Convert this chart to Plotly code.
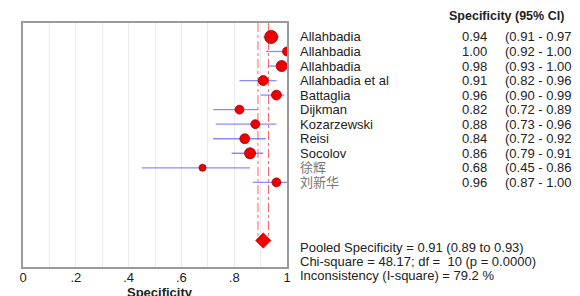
import plotly.graph_objects as go

# ---- data ----
studies = ["Allahbadia", "Allahbadia", "Allahbadia", "Allahbadia et al", "Battaglia",
           "Dijkman", "Kozarzewski", "Reisi", "Socolov", "徐辉", "刘新华"]
spec = [0.94, 1.00, 0.98, 0.91, 0.96, 0.82, 0.88, 0.84, 0.86, 0.68, 0.96]
ci_low = [0.91, 0.92, 0.93, 0.82, 0.90, 0.72, 0.73, 0.72, 0.79, 0.45, 0.87]
ci_high = [0.97, 1.00, 1.00, 0.96, 0.99, 0.89, 0.96, 0.92, 0.91, 0.86, 1.00]
weights = [14.0, 6.5, 10.0, 8.0, 8.0, 6.5, 6.5, 8.0, 10.0, 4.0, 6.5]  # estimated relative weights
pooled = 0.91
pooled_low = 0.89
pooled_high = 0.93
chi_square = 48.17
df_val = 10
p_val = "0.0000"
i_square = 79.2
tick_vals = [0, 0.2, 0.4, 0.6, 0.8, 1.0]
tick_text = ["0", ".2", ".4", ".6", ".8", "1"]

# ---- layout geometry (target pixels) ----
W, H = 580, 296
OFF = 8  # default page body margin
L, R, T, B = 19, 287, 23, 268
row_px = 14.6
first_row_px = 37
y_top = 1 - (first_row_px - T) / row_px
y_bot = y_top + (B - T) / row_px
pooled_row = len(studies) + 4

def px_x(p):
    return (p - L) / (R - L)

def px_y(p):
    return (B - p) / (B - T)

rows = list(range(1, len(studies) + 1))
FONT = "Arial, 'Liberation Sans', 'Noto Sans CJK SC', sans-serif"
TXT = "#222222"

fig = go.Figure()

# CI lines
lx, ly = [], []
for lo, hi, r in zip(ci_low, ci_high, rows):
    lx += [lo, hi, None]
    ly += [r, r, None]
fig.add_trace(go.Scatter(x=lx, y=ly, mode="lines",
                         line=dict(color="rgba(110,110,255,0.8)", width=1.3),
                         hoverinfo="skip", showlegend=False))

# point estimates
sizes = [3.5 * (w ** 0.5) for w in weights]
fig.add_trace(go.Scatter(x=spec, y=rows, mode="markers",
                         marker=dict(color="#ee0000", size=sizes, opacity=1,
                                     line=dict(color="#990000", width=0.8)),
                         showlegend=False))

# pooled diamond
fig.add_trace(go.Scatter(x=[pooled], y=[pooled_row], mode="markers",
                         marker=dict(symbol="diamond", color="#ee0000", size=12, opacity=1,
                                     line=dict(color="#cc0000", width=0.5)),
                         showlegend=False))

# pooled CI dashed lines
for xv in (pooled_low, pooled_high):
    fig.add_shape(type="line", xref="x", yref="y", x0=xv, x1=xv,
                  y0=y_top, y1=pooled_row,
                  line=dict(color="rgba(255,60,60,0.8)", width=1, dash="dashdot"),
                  layer="below")

anns = []
label_x = px_x(298)
val_x = px_x(492)
ci_x = px_x(506)
for s, v, lo, hi, r in zip(studies, spec, ci_low, ci_high, rows):
    is_cjk = any(ord(c) > 0x3000 for c in s)
    anns.append(dict(x=label_x, y=r, xref="paper", yref="y", text=s, showarrow=False,
                     xanchor="left", yanchor="middle",
                     font=dict(size=13, color="#777777" if is_cjk else TXT, family=FONT)))
    anns.append(dict(x=val_x, y=r, xref="paper", yref="y", text=f"{v:.2f}", showarrow=False,
                     xanchor="right", yanchor="middle", font=dict(size=13, color=TXT, family=FONT)))
    anns.append(dict(x=ci_x, y=r, xref="paper", yref="y", text=f"({lo:.2f} - {hi:.2f}",
                     showarrow=False, xanchor="left", yanchor="middle",
                     font=dict(size=13, color=TXT, family=FONT)))

anns.append(dict(x=px_x(510), y=px_y(16), xref="paper", yref="paper",
                 text="<b>Specificity (95% CI)</b>", showarrow=False,
                 xanchor="center", yanchor="middle", font=dict(size=12.5, color=TXT, family=FONT)))

summary = [
    f"Pooled Specificity = {pooled:.2f} ({pooled_low:.2f} to {pooled_high:.2f})",
    f"Chi-square = {chi_square:.2f}; df =  {df_val} (p = {p_val})",
    f"Inconsistency (I-square) = {i_square:.1f} %",
]
for i, line in enumerate(summary):
    anns.append(dict(x=label_x, y=px_y(248 + 14.5 * i), xref="paper", yref="paper",
                     text=line, showarrow=False, xanchor="left", yanchor="middle",
                     font=dict(size=13, color=TXT, family=FONT)))

anns.append(dict(x=px_x(158), y=px_y(293.5), xref="paper", yref="paper",
                 text="<b>Specificity</b>", showarrow=False, xanchor="center", yanchor="middle",
                 font=dict(size=13, color=TXT, family=FONT)))

fig.update_layout(
    width=W - OFF, height=H - OFF,
    margin=dict(l=L - OFF, r=W - R, t=T - OFF, b=H - B),
    paper_bgcolor="white", plot_bgcolor="white",
    annotations=anns,
    xaxis=dict(range=[0, 1], tickvals=tick_vals, ticktext=tick_text,
               showgrid=True, gridcolor="#ebebeb", gridwidth=1,
               minor=dict(dtick=0.1, showgrid=True, gridcolor="#ebebeb", gridwidth=1),
               showline=True, linecolor="#9a9a9a", linewidth=1.5, mirror=True,
               ticks="", zeroline=False, ticklabelstandoff=-2,
               tickfont=dict(size=13, color=TXT, family=FONT)),
    yaxis=dict(range=[y_bot, y_top], showgrid=False, showticklabels=False, ticks="",
               showline=True, linecolor="#9a9a9a", linewidth=1.5, mirror=True,
               zeroline=False),
)

fig.write_html("out.html")
